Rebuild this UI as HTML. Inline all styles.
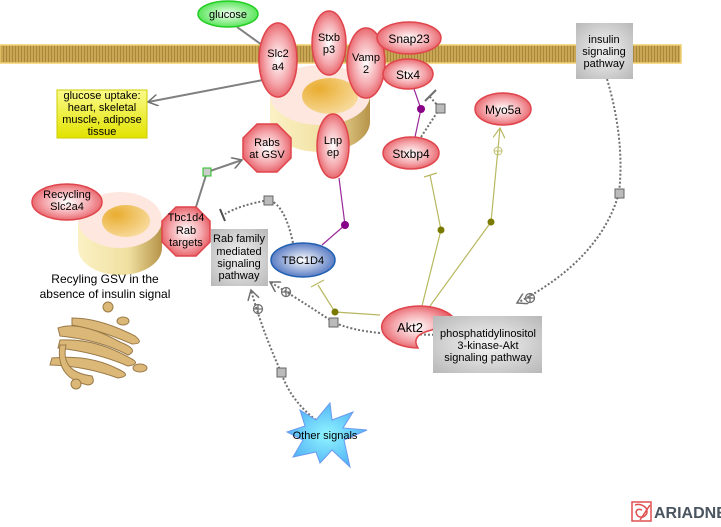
<!DOCTYPE html>
<html><head><meta charset="utf-8"><style>
html,body{margin:0;padding:0;background:#fff;}
svg{display:block;font-family:"Liberation Sans",sans-serif;}
text{font-size:11px;fill:#000;text-anchor:middle;}
</style></head><body>
<svg width="721" height="527" viewBox="0 0 721 527">
<defs>
<radialGradient id="red" cx="50%" cy="50%" r="60%"><stop offset="0" stop-color="#fff"/><stop offset="0.55" stop-color="#f4a6ab"/><stop offset="1" stop-color="#e24850"/></radialGradient>
<radialGradient id="green" cx="50%" cy="50%" r="60%"><stop offset="0" stop-color="#f2fff2"/><stop offset="1" stop-color="#3ee13e"/></radialGradient>
<radialGradient id="blue" cx="50%" cy="50%" r="60%"><stop offset="0" stop-color="#fff"/><stop offset="1" stop-color="#3a63b8"/></radialGradient>
<radialGradient id="grey" cx="50%" cy="50%" r="70%"><stop offset="0" stop-color="#f4f4f4"/><stop offset="1" stop-color="#b8b8b8"/></radialGradient>
<radialGradient id="star" cx="50%" cy="50%" r="60%"><stop offset="0" stop-color="#8ff6ff"/><stop offset="1" stop-color="#4aa8f4"/></radialGradient>
<linearGradient id="yellow" x1="0" y1="0" x2="0" y2="1"><stop offset="0" stop-color="#fbfb8a"/><stop offset="1" stop-color="#e2e200"/></linearGradient>
<linearGradient id="body" x1="0" y1="0" x2="1" y2="0"><stop offset="0" stop-color="#fbf1c4"/><stop offset="0.6" stop-color="#f0e0a0"/><stop offset="1" stop-color="#b69348"/></linearGradient>
<radialGradient id="pit" cx="30%" cy="30%" r="80%"><stop offset="0" stop-color="#e9ad30"/><stop offset="1" stop-color="#f8dca0"/></radialGradient>
<pattern id="mem" width="3" height="17" patternUnits="userSpaceOnUse"><rect width="3" height="17" fill="#c9a654"/><rect width="1" height="17" fill="#a8863c"/></pattern>
<marker id="arr" markerWidth="12" markerHeight="12" refX="10" refY="6" orient="auto" markerUnits="userSpaceOnUse"><path d="M0,0 L10,6 L0,12" fill="none" stroke="#707070" stroke-width="1.5"/></marker>
<marker id="arrY" markerWidth="12" markerHeight="12" refX="10" refY="6" orient="auto" markerUnits="userSpaceOnUse"><path d="M0,0 L10,6 L0,12" fill="none" stroke="#b8b860" stroke-width="1.2"/></marker>
</defs>

<rect x="0" y="45" width="681" height="18" fill="url(#mem)" stroke="#f0d070" stroke-width="1.5"/>

<!-- edges -->
<g fill="none">
<line x1="237" y1="27" x2="262" y2="45" stroke="#808080" stroke-width="2"/>
<line x1="263" y1="80" x2="148" y2="102" stroke="#808080" stroke-width="2" marker-end="url(#arr)"/>
<polyline points="196,207 207,172 242,160" stroke="#808080" stroke-width="2" marker-end="url(#arr)"/>
<polyline points="339,178 345,225 322,245" stroke="#9a2a9a" stroke-width="1.2"/>
<polyline points="414,89 421,109 415,137" stroke="#9a2a9a" stroke-width="1.2"/>
<path d="M421,137 L440,108 L430,97" stroke="#707070" stroke-width="2" stroke-dasharray="2,2"/>
<line x1="425" y1="101" x2="436" y2="90" stroke="#707070" stroke-width="2"/>
<path d="M293,243 Q285,205 269,200 Q240,205 225,214" stroke="#707070" stroke-width="2" stroke-dasharray="2,2"/>
<line x1="220" y1="209" x2="225" y2="221" stroke="#505050" stroke-width="2"/>
<polyline points="380,315 335,312 318,285" stroke="#b8b860" stroke-width="1.2"/>
<line x1="311" y1="287" x2="324" y2="280" stroke="#b8b860" stroke-width="1.2"/>
<polyline points="422,306 441,230 430,175" stroke="#b8b860" stroke-width="1.2"/>
<line x1="424" y1="177" x2="437" y2="173" stroke="#b8b860" stroke-width="1.2"/>
<polyline points="430,306 491,222 500,128" stroke="#b8b860" stroke-width="1.2" marker-end="url(#arrY)"/>
<path d="M380,333 Q350,330 333,322 Q300,300 270,282" stroke="#707070" stroke-width="2" stroke-dasharray="2,2" marker-end="url(#arr)"/>
<path d="M316,420 Q290,400 281,372 Q262,330 251,290" stroke="#707070" stroke-width="2" stroke-dasharray="2,2" marker-end="url(#arr)"/>
<path d="M607,79 Q625,140 619,193 Q600,260 517,303" stroke="#707070" stroke-width="2" stroke-dasharray="2,2" marker-end="url(#arr)"/>
<path d="M400,334 L440,335" stroke="#707070" stroke-width="2" stroke-dasharray="2,2"/>
</g>
<g>
<rect x="203" y="168" width="8" height="8" fill="#ccc" stroke="#22c022"/>
<rect x="264" y="196" width="9" height="9" fill="#bbb" stroke="#666"/>
<rect x="436" y="104" width="9" height="9" fill="#bbb" stroke="#666"/>
<rect x="329" y="318" width="9" height="9" fill="#bbb" stroke="#666"/>
<rect x="277" y="368" width="9" height="9" fill="#bbb" stroke="#666"/>
<rect x="615" y="189" width="9" height="9" fill="#bbb" stroke="#666"/>
<circle cx="345" cy="225" r="4" fill="#880088"/>
<circle cx="421" cy="109" r="4" fill="#880088"/>
<circle cx="335" cy="312" r="3.5" fill="#7a7a00"/>
<circle cx="441" cy="230" r="3.5" fill="#7a7a00"/>
<circle cx="491" cy="222" r="3.5" fill="#7a7a00"/>
<g fill="none" stroke="#707070" stroke-width="1.3">
<circle cx="286" cy="292" r="4.5"/><path d="M281.5,292h9M286,287.5v9"/>
<circle cx="258" cy="309" r="4.5"/><path d="M253.5,309h9M258,304.5v9"/>
<circle cx="530" cy="298" r="4.5"/><path d="M525.5,298h9M530,293.5v9"/>
</g>
<g fill="none" stroke="#c0c070" stroke-width="1"><circle cx="498" cy="151" r="4"/><path d="M494,151h8M498,147v8"/></g>
</g>

<!-- vesicles -->
<g>
<path d="M270,95 L270,122 A50,30 0 0 0 370,122 L370,95 Z" fill="url(#body)"/>
<ellipse cx="320" cy="95" rx="50" ry="30" fill="#fde7df"/>
<ellipse cx="330" cy="96" rx="28" ry="18" fill="url(#pit)"/>
</g>
<g>
<path d="M78,220 L78,248 A42,27 0 0 0 162,248 L162,220 Z" fill="url(#body)"/>
<ellipse cx="120" cy="220" rx="42" ry="28" fill="#fde7df"/>
<ellipse cx="126" cy="221" rx="24" ry="16" fill="url(#pit)"/>
</g>
<text x="105" y="283" style="font-size:12px">Recyling GSV in the</text>
<text x="105" y="298" style="font-size:12px">absence of insulin signal</text>

<!-- golgi -->
<g fill="#dcb878" stroke="#9a7a48" stroke-width="1">
<path d="M58,328 Q80,320 120,342 Q140,350 128,355 Q100,340 60,336 Z"/>
<path d="M60,340 Q95,338 130,358 Q142,364 128,366 Q95,352 58,348 Z"/>
<path d="M52,358 Q90,354 120,370 Q132,376 118,378 Q85,366 50,365 Z"/>
<path d="M72,318 Q100,318 135,336 Q145,344 132,344 Q100,330 72,325 Z"/>
<path d="M66,345 Q60,372 92,376 Q96,384 88,385 Q55,378 60,345 Z"/>
<ellipse cx="108" cy="307" rx="5" ry="5"/>
<ellipse cx="123" cy="321" rx="6" ry="4"/>
<ellipse cx="76" cy="384" rx="5" ry="5"/>
<ellipse cx="140" cy="368" rx="7" ry="4"/>
</g>

<!-- nodes -->
<g stroke="#e0454c" stroke-width="1.5" fill="url(#red)">
<ellipse cx="67" cy="202" rx="35" ry="18"/>
<ellipse cx="278" cy="60" rx="19" ry="37"/>
<ellipse cx="329" cy="43" rx="17" ry="32"/>
<ellipse cx="366" cy="63" rx="19" ry="35"/>
<ellipse cx="409" cy="38" rx="32" ry="16"/>
<ellipse cx="408" cy="74" rx="25" ry="15"/>
<ellipse cx="503" cy="109" rx="28" ry="16"/>
<ellipse cx="411" cy="153" rx="28" ry="16"/>
<ellipse cx="333" cy="146" rx="16" ry="32"/>
<polygon points="257,124 277,124 291,138 291,158 277,172 257,172 243,158 243,138"/>
<polygon points="176,207 196,207 210,221 210,242 196,256 176,256 162,242 162,221"/>
<path d="M452,316 A38,21 0 1 0 418,348 Q410,335 432,330 Z"/>
</g>
<ellipse cx="228" cy="14" rx="30" ry="13" fill="url(#green)" stroke="#22cc22" stroke-width="1.5"/>
<ellipse cx="303" cy="260" rx="32" ry="17" fill="url(#blue)" stroke="#1f5fb0" stroke-width="1.5"/>
<rect x="57" y="90" width="90" height="48" fill="url(#yellow)" stroke="#cccc00"/>
<rect x="576" y="23" width="57" height="56" fill="url(#grey)"/>
<rect x="211" y="229" width="57" height="57" fill="url(#grey)"/>
<rect x="433" y="316" width="109" height="57" fill="url(#grey)"/>
<polygon points="330,403 332,420 353,412 343,428 367,430 344,440 350,467 332,450 320,463 316,452 293,457 303,440 287,432 305,426 300,410 316,420" fill="url(#star)" stroke="#6a9af0"/>

<!-- labels -->
<g>
<text x="228" y="18">glucose</text>
<text x="278" y="57">Slc2</text><text x="278" y="70">a4</text>
<text x="329" y="41">Stxb</text><text x="329" y="53">p3</text>
<text x="366" y="61">Vamp</text><text x="366" y="73">2</text>
<text x="409" y="43" style="font-size:12px">Snap23</text>
<text x="408" y="79" style="font-size:12px">Stx4</text>
<text x="503" y="114" style="font-size:12px">Myo5a</text>
<text x="411" y="158" style="font-size:12px">Stxbp4</text>
<text x="333" y="144">Lnp</text><text x="333" y="156">ep</text>
<text x="267" y="146">Rabs</text><text x="267" y="158">at GSV</text>
<text x="186" y="221">Tbc1d4</text><text x="186" y="234">Rab</text><text x="186" y="246">targets</text>
<text x="67" y="198">Recycling</text><text x="67" y="210">Slc2a4</text>
<text x="102" y="99">glucose uptake:</text><text x="102" y="111">heart, skeletal</text><text x="102" y="123">muscle, adipose</text><text x="102" y="135">tissue</text>
<text x="604" y="43">insulin</text><text x="604" y="55">signaling</text><text x="604" y="67">pathway</text>
<text x="239" y="242">Rab family</text><text x="239" y="255">mediated</text><text x="239" y="267">signaling</text><text x="239" y="279">pathway</text>
<text x="303" y="264">TBC1D4</text>
<text x="410" y="332" style="font-size:13px">Akt2</text>
<text x="488" y="337">phosphatidylinositol</text><text x="488" y="349">3-kinase-Akt</text><text x="488" y="361">signaling pathway</text>
<text x="325" y="439">Other signals</text>
</g>

<!-- logo -->
<g>
<rect x="632" y="502" width="19" height="19" fill="#fff" stroke="#e05050" stroke-width="1.5"/>
<path d="M635,505 Q641,503 646,508 Q649,514 643,517 Q637,518 636,512 Q637,508 642,510 M640,520 L650,505" fill="none" stroke="#e05050" stroke-width="1.5"/>
<text x="654" y="518" style="font-size:16px;font-weight:bold;fill:#4a5560;text-anchor:start">ARIADNE</text>
</g>
</svg>
</body></html>
